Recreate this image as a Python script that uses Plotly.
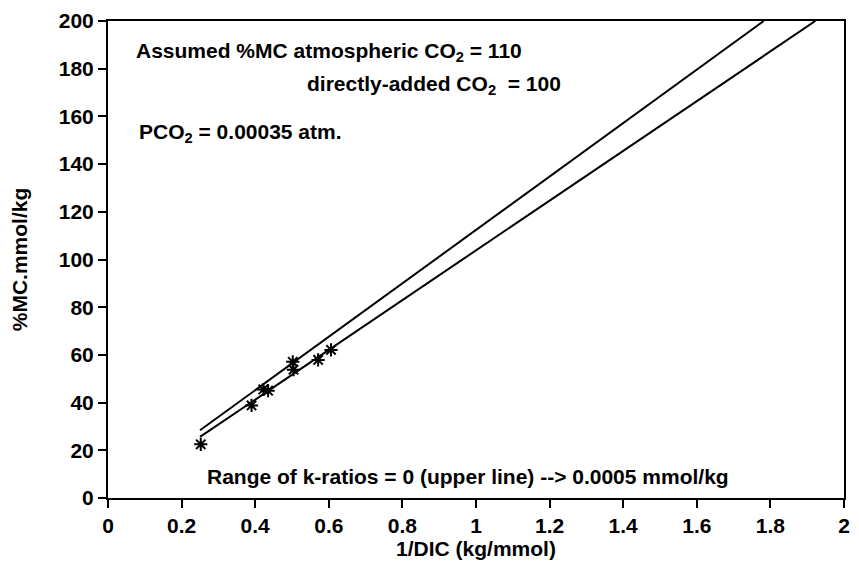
import plotly.graph_objects as go

# Data
obs_x = [0.252, 0.390, 0.422, 0.435, 0.502, 0.504, 0.571, 0.606]
obs_y = [22.5, 38.8, 45.5, 45.0, 57.1, 53.8, 57.9, 62.1]

upper_x = [0.250, 1.782]
upper_y = [28.4, 200.0]
lower_x = [0.250, 1.922]
lower_y = [25.6, 200.0]

x_ticks = [0, 0.2, 0.4, 0.6, 0.8, 1, 1.2, 1.4, 1.6, 1.8, 2]
x_tick_labels = ["0", "0.2", "0.4", "0.6", "0.8", "1", "1.2", "1.4", "1.6", "1.8", "2"]
y_ticks = [0, 20, 40, 60, 80, 100, 120, 140, 160, 180, 200]

FONT = "Liberation Sans, Arial, Helvetica, sans-serif"

fig = go.Figure()
fig.add_trace(go.Scatter(x=upper_x, y=upper_y, mode="lines",
                         line=dict(color="black", width=2), showlegend=False))
fig.add_trace(go.Scatter(x=lower_x, y=lower_y, mode="lines",
                         line=dict(color="black", width=2), showlegend=False))
fig.add_trace(go.Scatter(x=obs_x, y=obs_y, mode="markers",
                         marker=dict(symbol="asterisk-open", size=11, color="black",
                                     line=dict(color="black", width=2)),
                         showlegend=False))

ann_font = dict(family=FONT, size=21, color="black", weight="bold")
# positions (data coords) of the left edge / vertical centre of each note
annotations = [
    dict(x=0.070, y=187.0, text="Assumed %MC atmospheric CO<sub>2</sub> = 110"),
    dict(x=0.536, y=173.2, text="directly-added CO<sub>2</sub>  = 100"),
    dict(x=0.080, y=153.0, text="PCO<sub>2</sub> = 0.00035 atm."),
    dict(x=0.264, y=9.2, text="Range of k-ratios = 0 (upper line) --> 0.0005 mmol/kg"),
]
for a in annotations:
    fig.add_annotation(x=a["x"], y=a["y"], text=a["text"], showarrow=False,
                       xref="x", yref="y", xanchor="left", yanchor="middle",
                       font=ann_font)

tick_font = dict(family=FONT, size=21, color="black", weight="bold")
fig.update_layout(
    width=859, height=563,
    margin=dict(l=108, r=9, t=19, b=63),
    paper_bgcolor="white", plot_bgcolor="white",
    font=dict(family=FONT, size=21, color="black"),
)
fig.update_xaxes(range=[0, 2], tickvals=x_ticks, ticktext=x_tick_labels,
                 showgrid=False, zeroline=False, showline=True, linecolor="black",
                 linewidth=2, mirror=True, ticks="outside", ticklen=8, tickwidth=2,
                 tickcolor="black", tickfont=tick_font,
                 title=dict(text="1/DIC (kg/mmol)", font=tick_font, standoff=2))
fig.update_yaxes(range=[0, 200], tickvals=y_ticks,
                 showgrid=False, zeroline=False, showline=True, linecolor="black",
                 linewidth=2, mirror=True, ticks="outside", ticklen=8, tickwidth=2,
                 tickcolor="black", tickfont=tick_font,
                 title=dict(text="%MC.mmol/kg", font=tick_font, standoff=25))

fig.write_html("out.html")
